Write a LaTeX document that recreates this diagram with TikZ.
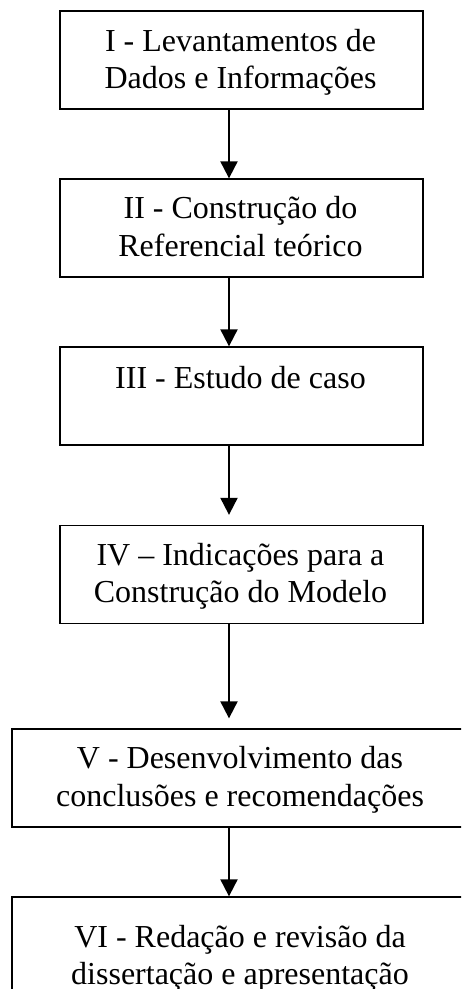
\documentclass[tikz,border=0pt]{standalone}
\usepackage{fontspec}
\setmainfont{Liberation Serif}
\usetikzlibrary{arrows.meta,calc}
\begin{document}
\begin{tikzpicture}[x=1pt,y=-1pt,
  box/.style={draw=black,line width=1.3pt,rectangle,inner sep=0pt},
  lbl/.style={anchor=base,inner sep=0pt,font=\fontsize{32}{38}\selectfont},
  arr/.style={line width=2pt,-{Triangle[length=17pt,width=17pt]}}]
\useasboundingbox (0,0) rectangle (461,989);
\clip (0,0) rectangle (461,989);
\node[box,minimum width=363pt,minimum height=98pt] (b1) at (241.5,60) {};
\node[box,minimum width=363pt,minimum height=98pt] (b2) at (241.5,228) {};
\node[box,minimum width=363pt,minimum height=98pt] (b3) at (241.5,396) {};
\node[box,minimum width=363pt,minimum height=98pt] (b4) at (241.5,574.5) {};
\node[box,minimum width=458pt,minimum height=98pt] (b5) at (241,778) {};
\node[box,minimum width=458pt,minimum height=103pt] (b6) at (241,948.5) {};
\node[lbl] (t1a) at (240.5,51) {I - Levantamentos de};
\node[lbl] (t1b) at (240.5,88.5) {Dados e Informações};
\node[lbl] (t2a) at (240.5,218) {II - Construção do};
\node[lbl] (t2b) at (240.5,256) {Referencial teórico};
\node[lbl] (t3a) at (240.5,388) {III - Estudo de caso};
\node[lbl] (t4a) at (240.5,565) {IV – Indicações para a};
\node[lbl] (t4b) at (240.5,602) {Construção do Modelo};
\node[lbl] (t5a) at (240,768) {V - Desenvolvimento das};
\node[lbl] (t5b) at (240,806) {conclusões e recomendações};
\node[lbl] (t6a) at (240,947) {VI - Redação e revisão da};
\node[lbl] (t6b) at (240,984) {dissertação e apresentação};
\draw[arr] ($(b1.south)+(-12.5,0)$) -- ($(b2.north)+(-12.5,0)$);
\draw[arr] ($(b2.south)+(-12.5,0)$) -- ($(b3.north)+(-12.5,0)$);
\draw[arr] ($(b3.south)+(-12.5,0)$) -- ($(b4.north)+(-12.5,-10)$);
\draw[arr] ($(b4.south)+(-12.5,0)$) -- ($(b5.north)+(-12,-10)$);
\draw[arr] ($(b5.south)+(-12,0)$) -- ($(b6.north)+(-12,0)$);
\end{tikzpicture}
\end{document}
